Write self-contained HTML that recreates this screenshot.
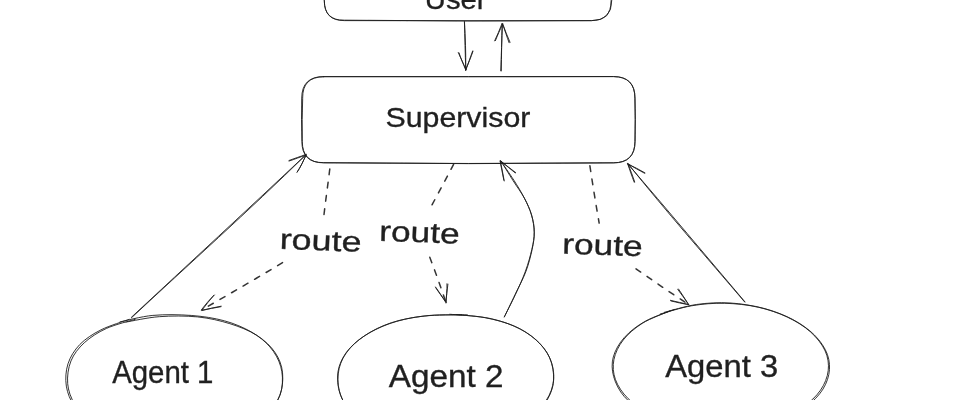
<!DOCTYPE html>
<html lang="en"><head><meta charset="utf-8"><title>Supervisor diagram</title>
<style>
html,body{margin:0;padding:0;background:#fff;}
body{width:978px;height:400px;overflow:hidden;}
svg{display:block;}
text{font-family:"Liberation Sans",sans-serif;fill:#1e1e1e;stroke:#1e1e1e;stroke-width:0.35px;}
</style></head><body>
<svg width="978" height="400" viewBox="0 0 978 400">
<defs><filter id="soft" x="0" y="0" width="978" height="400" filterUnits="userSpaceOnUse"><feGaussianBlur stdDeviation="0.4"/></filter></defs>
<rect width="978" height="400" fill="#ffffff"/>
<g filter="url(#soft)">
<path d="M344.29 -44.21Q467.99 -44.19 591.69 -44.29Q611.69 -44.21 611.69 -24.21Q611.43 -11.78 611.70 0.64Q611.69 20.64 591.69 20.64Q467.99 20.87 344.29 20.60Q324.29 20.64 324.29 0.64Q324.04 -11.78 324.05 -24.21Q324.29 -44.21 344.29 -44.21M344.32 -43.67Q467.77 -43.55 591.22 -43.23Q611.22 -43.67 611.22 -23.67Q611.30 -11.52 611.12 0.62Q611.22 20.62 591.22 20.62Q467.77 21.60 344.32 20.17Q324.32 20.62 324.32 0.62Q324.68 -11.52 324.11 -23.67Q324.32 -43.67 344.32 -43.67" fill="none" stroke="#1e1e1e" stroke-opacity="0.9" stroke-width="1.0" stroke-linecap="round" stroke-linejoin="round"/>
<path d="M323.39 76.57Q468.44 76.58 613.49 76.62Q634.99 76.57 634.99 98.07Q635.47 119.73 634.91 141.39Q634.99 162.89 613.49 162.89Q468.44 164.52 323.39 162.63Q301.89 162.89 301.89 141.39Q301.22 119.73 301.71 98.07Q301.89 76.57 323.39 76.57M323.78 76.73Q468.60 76.88 613.41 76.53Q634.91 76.73 634.91 98.23Q635.61 119.76 635.11 141.29Q634.91 162.79 613.41 162.79Q468.60 164.13 323.78 162.86Q302.28 162.79 302.28 141.29Q301.91 119.76 302.66 98.23Q302.28 76.73 323.78 76.73" fill="none" stroke="#1e1e1e" stroke-opacity="0.9" stroke-width="1.0" stroke-linecap="round" stroke-linejoin="round"/>
<path d="M119.98 321.89C125.46 320.81 140.97 316.48 152.84 315.41C164.72 314.33 179.30 314.54 191.24 315.45C203.19 316.36 214.45 318.08 224.52 320.85C234.59 323.63 243.83 327.61 251.67 332.12C259.51 336.63 266.54 342.03 271.54 347.89C276.53 353.75 279.99 360.19 281.64 367.27C283.28 374.35 283.15 383.29 281.39 390.37C279.63 397.45 276.01 403.83 271.06 409.74C266.10 415.65 259.51 421.34 251.67 425.83C243.84 430.31 234.28 433.93 224.03 436.65C213.77 439.37 202.18 441.27 190.14 442.13C178.09 442.99 163.58 443.01 151.78 441.79C139.98 440.57 129.16 437.90 119.35 434.79C109.54 431.68 100.37 427.83 92.93 423.12C85.49 418.40 79.13 412.65 74.70 406.49C70.26 400.33 67.45 393.27 66.33 386.15C65.22 379.04 65.74 370.75 67.99 363.81C70.23 356.87 74.33 350.17 79.82 344.51C85.31 338.86 92.68 334.07 100.91 329.88C109.13 325.69 124.44 321.14 129.15 319.39M125.90 322.09C131.49 321.18 147.48 317.53 159.41 316.66C171.34 315.80 185.75 315.72 197.48 316.89C209.21 318.06 220.04 320.65 229.82 323.67C239.59 326.69 248.87 330.38 256.13 335.00C263.40 339.63 269.13 345.32 273.42 351.41C277.70 357.50 280.69 364.43 281.85 371.53C283.01 378.63 282.65 387.10 280.39 393.99C278.13 400.88 273.72 407.23 268.29 412.89C262.86 418.55 255.87 423.73 247.82 427.94C239.77 432.15 230.40 435.70 220.00 438.14C209.61 440.58 197.53 442.16 185.44 442.59C173.34 443.02 158.99 442.16 147.46 440.71C135.93 439.26 125.57 437.12 116.24 433.88C106.91 430.64 98.40 426.25 91.48 421.27C84.56 416.30 78.68 410.30 74.72 404.03C70.75 397.76 68.31 390.84 67.68 383.67C67.05 376.49 68.20 367.79 70.96 360.98C73.72 354.16 78.34 348.22 84.24 342.80C90.14 337.38 97.83 332.39 106.35 328.46C114.87 324.54 130.52 320.79 135.35 319.26" fill="none" stroke="#1e1e1e" stroke-opacity="0.9" stroke-width="1.0" stroke-linecap="round" stroke-linejoin="round"/>
<path d="M449.87 314.27C455.66 314.82 473.86 315.61 484.61 317.60C495.35 319.59 505.70 322.40 514.34 326.19C522.99 329.98 530.55 335.00 536.48 340.35C542.41 345.71 547.08 351.65 549.92 358.32C552.75 364.99 554.11 373.38 553.49 380.38C552.87 387.39 550.27 394.19 546.21 400.37C542.15 406.54 536.17 412.38 529.13 417.42C522.10 422.46 513.43 427.11 503.99 430.62C494.56 434.14 484.04 436.78 472.52 438.51C461.00 440.24 446.77 441.34 434.88 441.02C422.99 440.70 411.53 438.97 401.17 436.58C390.81 434.20 380.96 430.73 372.72 426.71C364.47 422.68 357.14 417.92 351.69 412.41C346.23 406.90 342.28 400.45 340.00 393.66C337.71 386.86 336.89 378.58 337.99 371.64C339.10 364.71 342.11 358.09 346.63 352.04C351.15 345.99 357.66 340.25 365.13 335.36C372.60 330.47 381.58 325.93 391.44 322.71C401.29 319.49 412.53 317.36 424.24 316.04C435.95 314.72 455.46 315.00 461.70 314.79M456.24 314.53C461.85 315.18 479.54 316.20 489.91 318.46C500.27 320.71 510.20 323.96 518.43 328.05C526.66 332.13 533.82 337.34 539.29 342.97C544.76 348.59 548.93 355.05 551.26 361.82C553.60 368.58 554.42 376.60 553.32 383.58C552.21 390.56 549.12 397.60 544.62 403.69C540.12 409.77 533.83 415.29 526.32 420.08C518.80 424.87 509.43 429.17 499.54 432.40C489.65 435.63 478.60 438.03 466.97 439.45C455.33 440.88 441.46 441.58 429.74 440.96C418.02 440.35 406.76 438.39 396.66 435.77C386.56 433.15 377.05 429.59 369.14 425.25C361.22 420.91 354.15 415.48 349.17 409.71C344.19 403.94 340.94 397.48 339.27 390.61C337.60 383.74 337.48 375.39 339.12 368.50C340.76 361.61 344.14 355.14 349.10 349.25C354.06 343.36 360.94 337.80 368.88 333.15C376.81 328.49 386.54 324.28 396.70 321.33C406.85 318.38 418.03 316.52 429.80 315.44C441.58 314.36 461.09 314.95 467.35 314.85" fill="none" stroke="#1e1e1e" stroke-opacity="0.9" stroke-width="1.0" stroke-linecap="round" stroke-linejoin="round"/>
<path d="M660.31 314.02C665.56 312.64 681.14 307.53 691.84 305.74C702.53 303.95 713.42 303.03 724.47 303.28C735.53 303.52 747.67 304.86 758.19 307.19C768.71 309.52 778.86 313.10 787.59 317.23C796.33 321.37 804.33 326.37 810.60 331.99C816.86 337.61 822.24 344.48 825.17 350.94C828.11 357.41 828.98 364.21 828.20 370.76C827.41 377.31 824.69 384.17 820.46 390.24C816.24 396.31 810.23 402.13 802.88 407.18C795.52 412.23 786.01 416.98 776.31 420.54C766.62 424.11 755.49 426.99 744.69 428.55C733.89 430.11 722.52 430.45 711.49 429.89C700.45 429.33 688.80 427.87 678.50 425.20C668.19 422.54 658.08 418.36 649.66 413.90C641.23 409.43 633.66 404.15 627.95 398.43C622.25 392.71 617.79 386.04 615.45 379.58C613.11 373.12 612.60 366.27 613.90 359.67C615.20 353.06 618.50 346.03 623.27 339.96C628.04 333.88 634.83 328.01 642.52 323.20C650.22 318.39 664.95 313.12 669.44 311.11M664.31 312.33C669.70 311.02 685.71 306.04 696.64 304.48C707.57 302.92 718.81 302.34 729.92 302.97C741.03 303.60 752.92 305.54 763.31 308.26C773.71 310.97 783.76 314.78 792.29 319.25C800.82 323.71 808.63 329.21 814.48 335.05C820.32 340.90 824.97 347.77 827.36 354.34C829.75 360.90 830.12 367.85 828.84 374.44C827.55 381.02 824.46 387.75 819.64 393.84C814.82 399.93 807.80 405.99 799.91 410.99C792.03 415.99 782.36 420.55 772.34 423.83C762.33 427.10 750.83 429.40 739.81 430.66C728.80 431.92 717.29 432.29 706.24 431.38C695.19 430.48 683.67 428.33 673.52 425.24C663.37 422.14 653.53 417.56 645.33 412.80C637.14 408.04 629.62 402.68 624.35 396.66C619.07 390.64 615.52 383.29 613.68 376.68C611.83 370.06 611.52 363.50 613.30 356.96C615.09 350.42 619.05 343.40 624.39 337.44C629.72 331.48 636.99 325.87 645.31 321.21C653.63 316.55 669.48 311.44 674.31 309.49" fill="none" stroke="#1e1e1e" stroke-opacity="0.9" stroke-width="1.0" stroke-linecap="round" stroke-linejoin="round"/>
<path d="M464.37 21.63C465.37 37.27 465.95 53.42 465.71 70.31M464.51 21.71C464.81 37.40 465.20 53.39 465.78 69.96" fill="none" stroke="#1e1e1e" stroke-opacity="0.9" stroke-width="1.0" stroke-linecap="round" stroke-linejoin="round"/>
<path d="M458.27 52.56C460.94 58.43 463.52 63.59 465.93 69.47M459.05 52.92C460.67 58.56 463.25 63.77 465.65 69.79M472.95 51.35C470.83 57.35 468.45 63.09 465.73 69.61M472.67 50.93C470.57 57.57 467.94 63.89 465.62 70.39" fill="none" stroke="#1e1e1e" stroke-opacity="0.9" stroke-width="1.0" stroke-linecap="round" stroke-linejoin="round"/>
<path d="M501.29 70.96C501.59 55.30 501.45 39.99 502.37 24.04M500.75 70.78C501.23 55.36 502.01 39.84 502.21 23.81" fill="none" stroke="#1e1e1e" stroke-opacity="0.9" stroke-width="1.0" stroke-linecap="round" stroke-linejoin="round"/>
<path d="M494.65 40.83C496.94 35.65 500.01 29.44 501.97 23.73M495.38 40.65C497.47 35.68 499.85 29.78 502.78 23.94M510.03 42.33C507.38 36.27 504.75 29.78 502.87 24.23M509.12 42.71C506.74 36.73 505.12 30.47 502.28 23.70" fill="none" stroke="#1e1e1e" stroke-opacity="0.9" stroke-width="1.0" stroke-linecap="round" stroke-linejoin="round"/>
<path d="M131.47 317.21C189.11 263.53 246.83 210.30 305.96 154.69M131.52 317.74C189.08 263.96 247.99 211.59 305.86 154.90" fill="none" stroke="#1e1e1e" stroke-opacity="0.9" stroke-width="1.0" stroke-linecap="round" stroke-linejoin="round"/>
<path d="M289.01 160.46C294.48 158.45 299.67 156.76 305.74 154.55M289.08 161.03C294.78 159.30 300.10 156.83 306.22 155.14M297.11 172.25C300.77 166.87 303.35 161.09 306.16 154.50M297.18 172.02C300.64 166.71 303.25 161.16 306.00 155.29" fill="none" stroke="#1e1e1e" stroke-opacity="0.9" stroke-width="1.0" stroke-linecap="round" stroke-linejoin="round"/>
<path d="M744.87 301.76C706.12 256.06 668.27 210.73 627.58 163.67M744.79 302.13C706.20 256.81 666.51 211.93 627.99 163.64" fill="none" stroke="#1e1e1e" stroke-opacity="0.9" stroke-width="1.0" stroke-linecap="round" stroke-linejoin="round"/>
<path d="M644.52 173.26C639.15 170.25 633.47 167.29 627.73 163.53M644.99 172.90C639.68 170.04 633.96 166.59 627.98 164.16M634.23 182.27C631.74 175.60 629.88 170.34 627.78 164.07M634.65 181.82C632.37 175.71 630.60 169.84 628.01 163.97" fill="none" stroke="#1e1e1e" stroke-opacity="0.9" stroke-width="1.0" stroke-linecap="round" stroke-linejoin="round"/>
<path d="M504.38 316.95C506.17 313.20 511.55 301.98 515.11 294.47C518.68 286.95 522.91 279.40 525.76 271.87C528.60 264.35 530.76 255.90 532.16 249.31C533.56 242.73 534.27 238.06 534.17 232.36C534.07 226.65 533.21 220.79 531.57 215.07C529.93 209.34 527.26 203.83 524.31 198.02C521.36 192.21 517.77 186.34 513.86 180.21C509.95 174.07 503.02 164.37 500.86 161.21M504.31 316.76C506.14 313.11 511.76 302.43 515.29 294.82C518.82 287.21 522.74 278.67 525.49 271.12C528.24 263.57 530.32 256.04 531.80 249.49C533.28 242.95 534.41 237.61 534.36 231.84C534.31 226.07 533.16 220.47 531.51 214.88C529.86 209.28 527.52 203.97 524.45 198.27C521.38 192.58 517.03 186.93 513.10 180.70C509.17 174.47 502.91 164.20 500.87 160.90" fill="none" stroke="#1e1e1e" stroke-opacity="0.9" stroke-width="1.0" stroke-linecap="round" stroke-linejoin="round"/>
<path d="M504.23 180.94C502.83 174.60 501.89 167.46 500.27 160.86M503.80 180.10C502.64 174.45 501.45 167.43 500.15 161.29M515.16 172.86C510.89 169.18 506.06 165.56 501.00 161.42M515.69 172.60C510.78 169.16 505.42 164.67 500.70 160.96" fill="none" stroke="#1e1e1e" stroke-opacity="0.9" stroke-width="1.0" stroke-linecap="round" stroke-linejoin="round"/>
<path d="M329.78 168.98C327.93 184.60 325.66 199.75 323.91 215.38" fill="none" stroke="#1e1e1e" stroke-opacity="0.9" stroke-width="1.5" stroke-linecap="round" stroke-linejoin="round" stroke-dasharray="5.7 7.7"/>
<path d="M282.53 262.64C256.04 278.68 229.81 293.81 202.30 309.60" fill="none" stroke="#1e1e1e" stroke-opacity="0.9" stroke-width="1.5" stroke-linecap="round" stroke-linejoin="round" stroke-dasharray="5.7 7.7"/>
<path d="M214.35 294.94C209.32 299.78 205.36 304.69 201.40 309.86M213.86 295.34C209.81 300.07 205.82 304.92 202.02 310.12M220.96 306.71C214.96 308.02 208.10 308.69 201.39 310.20M221.11 306.15C215.14 307.16 208.00 309.08 202.20 310.51" fill="none" stroke="#1e1e1e" stroke-opacity="0.9" stroke-width="1.0" stroke-linecap="round" stroke-linejoin="round"/>
<path d="M453.59 164.34C446.25 178.32 438.86 192.35 431.05 206.55" fill="none" stroke="#1e1e1e" stroke-opacity="0.9" stroke-width="1.5" stroke-linecap="round" stroke-linejoin="round" stroke-dasharray="5.7 7.7"/>
<path d="M429.77 257.29C435.68 272.43 440.78 287.31 446.01 302.61" fill="none" stroke="#1e1e1e" stroke-opacity="0.9" stroke-width="1.5" stroke-linecap="round" stroke-linejoin="round" stroke-dasharray="5.7 7.7"/>
<path d="M435.56 286.99C439.43 292.60 442.22 296.99 446.31 302.21M435.62 287.67C439.03 292.49 442.38 297.13 445.66 302.12M446.96 283.78C447.14 290.53 446.46 295.92 445.96 303.00M447.91 284.18C447.06 290.26 446.50 296.00 445.83 302.08" fill="none" stroke="#1e1e1e" stroke-opacity="0.9" stroke-width="1.0" stroke-linecap="round" stroke-linejoin="round"/>
<path d="M589.91 165.86C592.75 184.99 595.84 203.92 599.17 223.12" fill="none" stroke="#1e1e1e" stroke-opacity="0.9" stroke-width="1.5" stroke-linecap="round" stroke-linejoin="round" stroke-dasharray="5.7 7.7"/>
<path d="M636.00 268.82C653.58 280.87 670.71 293.07 689.28 304.89" fill="none" stroke="#1e1e1e" stroke-opacity="0.9" stroke-width="1.5" stroke-linecap="round" stroke-linejoin="round" stroke-dasharray="5.7 7.7"/>
<path d="M678.50 289.00C681.58 294.43 685.79 299.14 688.66 304.70M677.75 289.42C681.26 294.17 685.63 299.88 688.68 304.61M671.05 300.97C677.07 302.31 682.18 303.70 688.81 304.65M670.39 300.35C676.42 301.83 683.12 303.11 688.71 304.56" fill="none" stroke="#1e1e1e" stroke-opacity="0.9" stroke-width="1.0" stroke-linecap="round" stroke-linejoin="round"/>
</g>
<g opacity="0.99">
<text x="424.75" y="8.7" textLength="61.79" lengthAdjust="spacingAndGlyphs" font-size="28">User</text>
<text x="385.51" y="127.2" textLength="144.83" lengthAdjust="spacingAndGlyphs" font-size="28">Supervisor</text>
<text x="279.63" y="250.3" textLength="82.00" lengthAdjust="spacingAndGlyphs" font-size="28.5" transform="rotate(2 321.0 243.2)">route</text>
<text x="379.17" y="242.2" textLength="80.43" lengthAdjust="spacingAndGlyphs" font-size="28.5" transform="rotate(2 419.8 235.1)">route</text>
<text x="562.17" y="254.9" textLength="80.43" lengthAdjust="spacingAndGlyphs" font-size="28.5" transform="rotate(2 602.8 247.8)">route</text>
<text x="112.14" y="383.2" textLength="101.34" lengthAdjust="spacingAndGlyphs" font-size="31">Agent 1</text>
<text x="388.83" y="387" textLength="114.57" lengthAdjust="spacingAndGlyphs" font-size="31">Agent 2</text>
<text x="665.23" y="377.3" textLength="112.95" lengthAdjust="spacingAndGlyphs" font-size="31">Agent 3</text>
</g>
</svg>
</body></html>
